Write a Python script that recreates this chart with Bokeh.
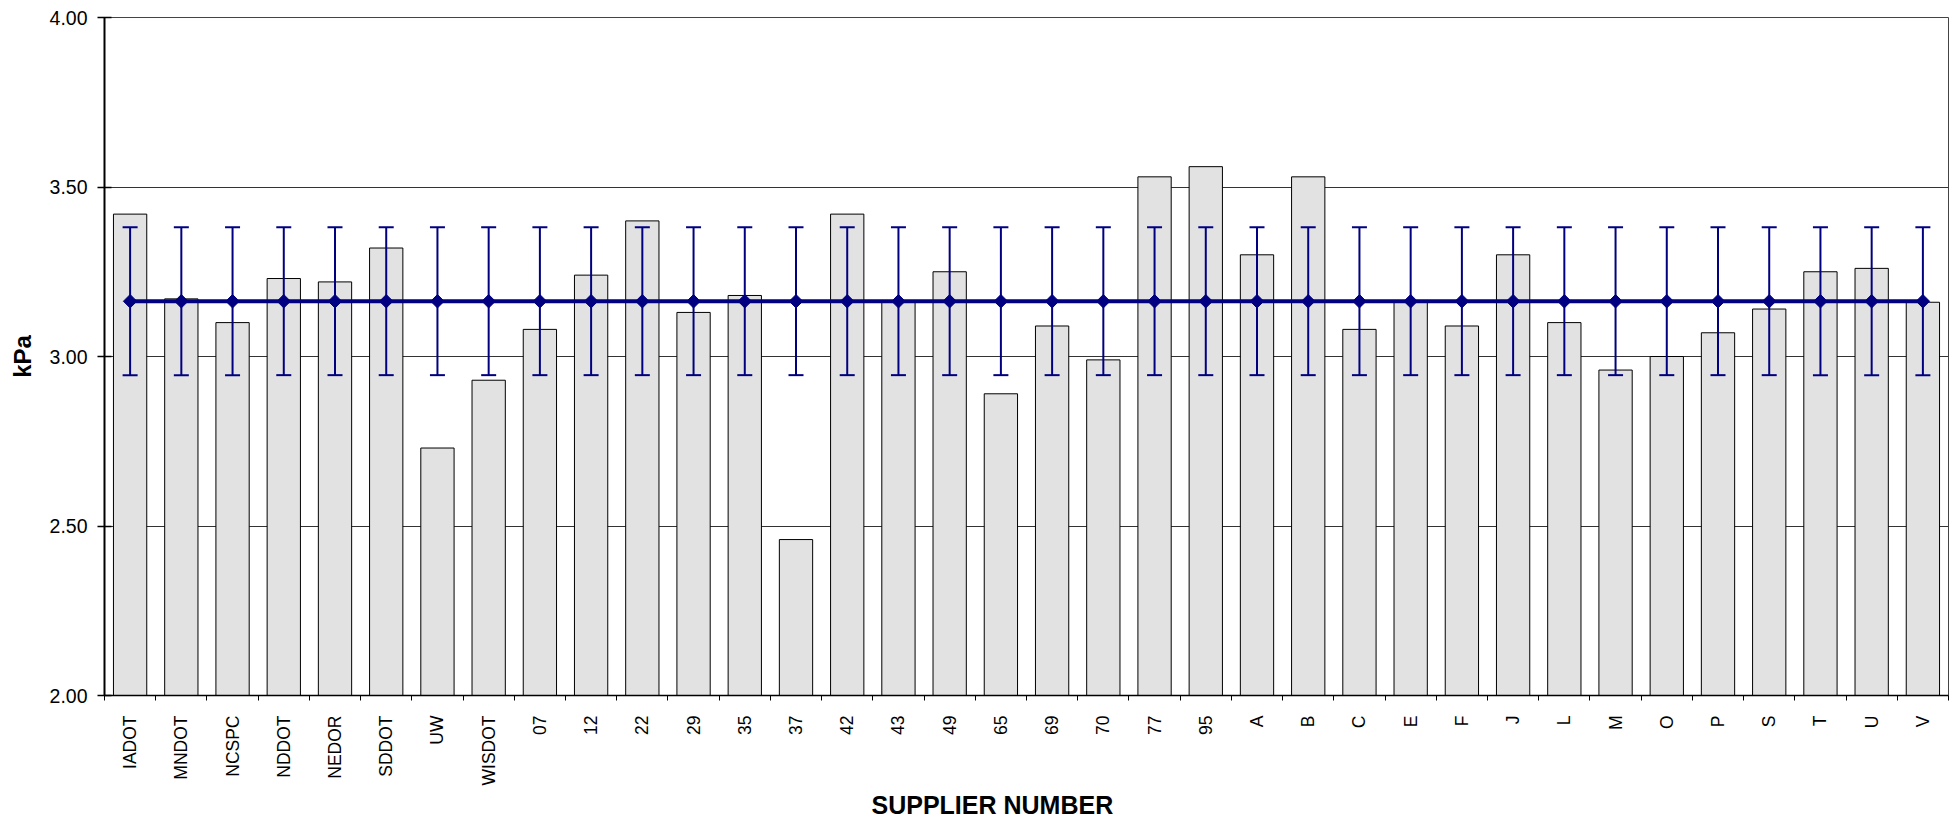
import math
from bokeh.plotting import figure
from bokeh.models import (Range1d, FixedTicker, Whisker, TeeHead, ColumnDataSource,
                          Title, NumeralTickFormatter)
from bokeh.embed import file_html
from bokeh.resources import INLINE

# ---- data ----
suppliers = ["IADOT", "MNDOT", "NCSPC", "NDDOT", "NEDOR", "SDDOT", "UW", "WISDOT",
             "07", "12", "22", "29", "35", "37", "42", "43", "49", "65", "69", "70", "77", "95",
             "A", "B", "C", "E", "F", "J", "L", "M", "O", "P", "S", "T", "U", "V"]
kpa = [3.42, 3.17, 3.10, 3.23, 3.22, 3.32, 2.73, 2.93,
       3.08, 3.24, 3.40, 3.13, 3.18, 2.46, 3.42, 3.16, 3.25, 2.89, 3.09, 2.99, 3.53, 3.56,
       3.30, 3.53, 3.08, 3.16, 3.09, 3.30, 3.10, 2.96, 3.00, 3.07, 3.14, 3.25, 3.26, 3.16]
mean_kpa = 3.163
mean_low = 2.945
mean_high = 3.381
y_ticks = [2.0, 2.5, 3.0, 3.5, 4.0]

n = len(suppliers)
xs = list(range(1, n + 1))
src = ColumnDataSource(dict(
    x=xs, kpa=kpa, name=suppliers,
    mean=[mean_kpa] * n, lo=[mean_low] * n, hi=[mean_high] * n,
))

NAVY = "#000080"
FONT = "Liberation Sans"

p = figure(width=1960, height=818, output_backend="svg", toolbar_location=None,
           x_range=Range1d(0.5, n + 0.5), y_range=Range1d(2.0, 4.0),
           min_border_left=104, min_border_right=12, min_border_top=17, min_border_bottom=0)
p.background_fill_color = "white"
p.border_fill_color = "white"
p.outline_line_color = "#444444"
p.outline_line_width = 1

# bars
p.vbar(x="x", top="kpa", bottom=2.0, width=0.65, source=src,
       fill_color="#E2E2E2", line_color="black", line_width=1)

# mean line + markers
p.line(x="x", y="mean", source=src, line_color=NAVY, line_width=4)
p.scatter(x="x", y="mean", source=src, marker="square", angle=math.pi / 4,
          size=9.5, fill_color=NAVY, line_color=NAVY)

wh = Whisker(source=src, base="x", upper="hi", lower="lo", level="annotation",
             line_color=NAVY, line_width=2,
             upper_head=TeeHead(size=15, line_color=NAVY, line_width=2),
             lower_head=TeeHead(size=15, line_color=NAVY, line_width=2))
p.add_layout(wh)

# grid
p.xgrid.visible = False
p.ygrid.grid_line_color = "#333333"
p.ygrid.grid_line_width = 1

# y axis
p.yaxis.ticker = FixedTicker(ticks=y_ticks)
p.yaxis.formatter = NumeralTickFormatter(format="0.00")
p.yaxis.axis_line_color = "black"
p.yaxis.axis_line_width = 2
p.yaxis.major_tick_in = 7
p.yaxis.major_tick_out = 7
p.yaxis.major_tick_line_width = 1.5
p.yaxis.minor_tick_line_color = None
p.yaxis.major_label_standoff = 10
p.yaxis.major_label_text_font = FONT
p.yaxis.major_label_text_font_size = "19.5px"
p.yaxis.major_label_text_color = "black"
p.yaxis.axis_label = "kPa"
p.yaxis.axis_label_text_font = FONT
p.yaxis.axis_label_text_font_size = "24px"
p.yaxis.axis_label_text_font_style = "bold"
p.yaxis.axis_label_text_color = "black"
p.yaxis.axis_label_standoff = 11

# x axis: labels at category centres, ticks between categories
p.xaxis.ticker = FixedTicker(ticks=xs, minor_ticks=[x - 0.5 for x in xs] + [n + 0.5])
p.xaxis.major_label_overrides = {x: s for x, s in zip(xs, suppliers)}
p.xaxis.major_tick_in = 0
p.xaxis.major_tick_out = 0
p.xaxis.minor_tick_in = 0
p.xaxis.minor_tick_out = 5
p.xaxis.minor_tick_line_color = "black"
p.xaxis.axis_line_color = "black"
p.xaxis.axis_line_width = 1.5
p.xaxis.major_label_orientation = math.pi / 2
p.xaxis.major_label_standoff = 15
p.xaxis.major_label_text_font = FONT
p.xaxis.major_label_text_font_size = "17.5px"
p.xaxis.major_label_text_color = "black"

t = Title(text="SUPPLIER NUMBER", align="left", offset=767,
          text_font=FONT, text_font_size="25px", text_font_style="bold",
          text_color="black", standoff=0)
p.add_layout(t, "below")

open("out.html", "w").write(file_html(p, INLINE))
